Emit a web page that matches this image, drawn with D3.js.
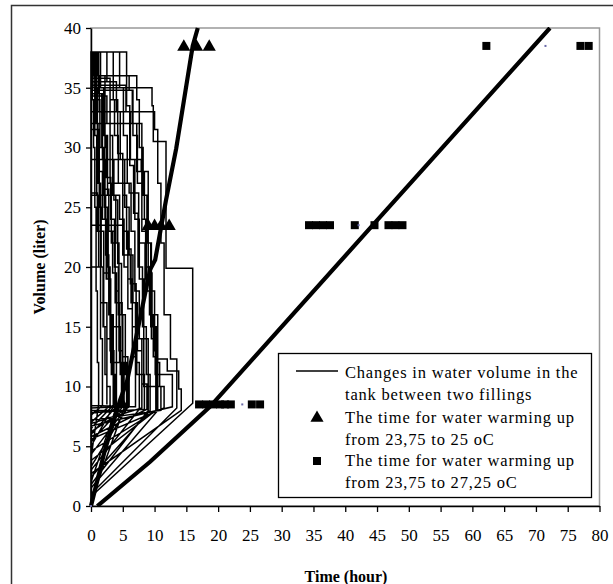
<!DOCTYPE html>
<html>
<head>
<meta charset="utf-8">
<script src="https://cdn.jsdelivr.net/npm/d3@7"></script>
<style>
  body { margin: 0; background: #fff; overflow: hidden; }
  svg { display: block; }
  text { font-family: "Liberation Serif", "Times New Roman", serif; }
</style>
</head>
<body>
<div id="chart"></div>
<script>
// TICKS
const xTicks = [0, 5, 10, 15, 20, 25, 30, 35, 40, 45, 50, 55, 60, 65, 70, 75, 80];
const yTicks = [0, 5, 10, 15, 20, 25, 30, 35, 40];

// TANK CYCLES: [start volume, filled volume, t1, v1, t2, v2, ...]
const cycles = [
  [0.0, 38, 0.3, 35, 0.6, 31, 0.9, 26, 1.2, 20, 1.5, 14, 1.8, 8.4],
  [7.6, 38, 1.5, 35, 2.0, 31, 2.6, 27, 3.2, 23, 3.8, 18, 4.4, 13, 5.0, 8.3],
  [5.4, 38, 3.5, 34, 4.2, 29.5, 5.0, 26, 5.6, 21.5, 6.3, 17, 7.0, 12, 7.6, 8.1],
  [3.0, 38, 5.6, 33.5, 6.1, 28.5, 6.7, 24.5, 7.4, 20, 8.1, 15, 8.7, 11, 9.3, 8],
  [2.4, 36, 7.2, 34, 7.6, 30, 8.2, 26, 8.8, 22, 9.4, 18, 10.0, 13, 10.5, 8],
  [1.5, 35, 9.6, 33.5, 9.8, 30.5, 11.8, 19.9, 16.0, 8.6],
  [0.8, 35.5, 4.0, 33, 4.6, 29, 5.3, 25, 6.0, 21, 6.6, 17, 7.3, 13, 8.0, 8.2],
  [6.9, 34.8, 6.5, 32, 7.2, 28, 8.0, 24, 8.6, 20, 9.2, 16, 9.8, 12.5, 10.4, 8],
  [4.6, 34.3, 2.5, 32, 3.0, 29, 3.6, 25.6, 4.2, 20.3, 4.8, 16, 5.4, 11, 6.0, 8.3],
  [6.2, 29, 3.0, 27, 6.0, 26.2, 7.5, 22, 8.5, 18, 9.5, 14, 10.2, 8],
  [3.8, 38, 0.8, 32, 1.1, 27, 1.5, 20, 2.0, 15, 2.5, 10, 3.0, 8.4],
  [7.0, 29, 2.0, 26.5, 2.8, 23, 3.4, 19.5, 4.0, 15, 4.6, 11, 5.2, 8.2],
  [0.4, 32, 8.0, 28, 9.0, 22, 9.5, 16, 10.5, 12.3, 12.0, 11.3, 13.8, 9.8, 14.2, 8],
  [2.7, 26.2, 1.0, 23, 2.0, 19.5, 3.0, 15, 4.0, 12, 4.8, 8.3],
  [8.2, 23.5, 5.0, 21, 6.2, 18.6, 7.1, 14, 8.0, 10.2, 8.8, 8.1],
  [5.8, 31.5, 1.2, 28, 1.8, 24, 2.4, 19, 3.0, 13, 3.6, 8.5],
  [6.5, 36, 2.2, 30, 2.6, 26, 3.2, 22, 3.8, 17, 4.5, 12, 5.2, 8],
  [8.0, 38, 0.2, 34, 0.4, 30, 0.6, 25, 0.8, 18, 1.0, 12, 1.2, 8.5],
  [4.0, 33, 10.0, 31.5, 10.5, 27, 11.0, 22, 11.5, 16, 12.5, 12.3, 13.5, 8.2],
  [1.0, 35.2, 5.5, 33, 6.2, 29, 6.9, 24, 7.6, 19, 8.3, 14, 9.0, 10, 11.0, 8],
  [7.2, 38, 1.0, 36, 1.3, 33, 1.8, 29, 2.2, 24, 2.7, 19, 3.1, 12, 3.5, 8.3],
  [5.0, 38, 2.5, 35.5, 3.0, 31, 3.4, 26, 3.9, 22, 4.4, 17, 4.9, 12, 5.6, 8.1],
  [3.3, 38, 0.5, 36, 0.9, 34, 1.4, 30, 1.9, 26, 2.3, 21, 2.8, 16, 3.3, 11, 3.8, 8.2],
  [6.0, 38, 1.2, 34.5, 1.7, 30, 2.1, 25, 2.6, 20, 3.0, 16, 3.5, 12, 4.0, 8.3],
  [2.0, 35.8, 3.0, 34, 3.7, 31, 4.3, 27, 5.0, 23, 5.8, 19, 6.5, 15, 7.2, 11, 8.4, 8.1],
  [7.8, 34.5, 1.8, 31, 2.4, 27.5, 3.1, 24, 3.7, 20, 4.3, 16, 5.0, 12.5, 5.8, 8.4],
  [4.3, 38, 4.5, 35, 5.1, 31, 5.7, 27, 6.3, 23, 6.9, 18, 7.6, 14, 8.3, 10, 9.0, 8],
  [1.8, 29, 7.9, 28, 8.4, 24, 9.0, 19.5, 9.6, 15, 10.3, 12, 10.8, 10, 11.5, 8.2],
  [5.6, 26, 4.5, 24, 5.2, 20, 5.8, 16.5, 6.5, 12.5, 7.0, 8.3],
  [8.4, 20, 1.5, 17, 2.5, 14, 3.2, 11, 4.0, 8.4],
  [0.2, 36, 6.0, 34.8, 6.6, 31, 7.3, 27, 8.0, 23, 8.7, 19, 9.4, 15, 10.1, 11, 12.8, 8.3],
  [6.7, 38, 0.6, 35, 1.0, 30, 1.3, 25, 1.6, 20, 1.9, 15, 2.2, 11, 2.5, 8.5]
];

// THICK TREND LINES
const trend25 = [[0, 0], [2.2, 4.7], [4.6, 8.9], [5.7, 10.5], [9.3, 19.8], [10.1, 20.6], [11.8, 25.6], [13.4, 29.9], [16.0, 38.5], [16.8, 40]];
const trend27 = [[1.0, 0], [9.3, 3.7], [18.7, 8.3], [45.0, 23.9], [72.2, 40]];

// MARKERS
const triangles = [[4.9, 8.6], [9.0, 23.5], [10.0, 23.5], [11.0, 23.5], [12.3, 23.5], [14.6, 38.5], [16.6, 38.5], [18.6, 38.5]];
const squares = [
  [17.0, 8.5], [18.1, 8.5], [19.2, 8.5], [20.3, 8.5], [21.1, 8.5], [22.0, 8.5], [25.3, 8.5], [26.6, 8.5],
  [34.3, 23.5], [35.4, 23.5], [36.5, 23.5], [37.6, 23.5], [41.5, 23.5], [44.6, 23.5], [46.8, 23.5], [47.9, 23.5], [49.0, 23.5],
  [62.2, 38.5], [77.0, 38.5], [78.3, 38.5]
];
const dots = [[0, 0], [23.8, 8.5], [42.1, 23.5], [71.5, 38.5]];

const legendLines = [
  ["Changes in water volume in the", "tank between two fillings"],
  ["The time for water warming up", "from 23,75 to 25 oC"],
  ["The time for water warming up", "from 23,75 to 27,25 oC"]
];

// SIZE
const w = 613, h = 584;
const pLeft = 91, pRight = 599.5, pTop = 28, pBottom = 506;

const svg = d3.select("#chart").append("svg").attr("width", w).attr("height", h);
svg.append("rect").attr("width", w).attr("height", h).attr("fill", "#fff");

// OUTER FRAME
svg.append("rect")
  .attr("x", 11.5).attr("y", 5.5).attr("width", 800).attr("height", 800)
  .attr("fill", "none").attr("stroke", "#333").attr("stroke-width", 1.5);

const x = d3.scaleLinear().domain([0, 80]).range([pLeft, pRight]);
const y = d3.scaleLinear().domain([0, 40]).range([pBottom, pTop]);

// PLOT AREA BORDER
svg.append("rect")
  .attr("x", pLeft).attr("y", pTop).attr("width", pRight - pLeft).attr("height", pBottom - pTop)
  .attr("fill", "none").attr("stroke", "#999").attr("stroke-width", 1.5);

svg.append("clipPath").attr("id", "clip")
  .append("rect").attr("x", pLeft - 2).attr("y", pTop - 1).attr("width", pRight - pLeft + 2).attr("height", pBottom - pTop + 2);

const plot = svg.append("g").attr("clip-path", "url(#clip)");

// BUILD THE STEP PATH
const stepPoints = [];
cycles.forEach(c => {
  stepPoints.push([0, c[0]]);
  stepPoints.push([0, c[1]]);
  let prev = c[1];
  for (let i = 2; i < c.length; i += 2) {
    stepPoints.push([c[i], prev]);
    stepPoints.push([c[i], c[i + 1]]);
    prev = c[i + 1];
  }
});

const line = d3.line().x(d => x(d[0])).y(d => y(d[1]));

plot.append("path")
  .datum(stepPoints)
  .attr("d", line)
  .attr("fill", "none")
  .attr("stroke", "#000")
  .attr("stroke-width", 1.5)
  .attr("stroke-linejoin", "miter");

[trend25, trend27].forEach(t => {
  plot.append("path")
    .datum(t)
    .attr("d", line)
    .attr("fill", "none")
    .attr("stroke", "#000")
    .attr("stroke-width", 4.2);
});

// AXES
const yAxis = d3.axisLeft(y).tickValues(yTicks).tickSize(5).tickSizeOuter(0);
const gy = svg.append("g").attr("transform", "translate(" + pLeft + ",0)").call(yAxis);
const xAxis = d3.axisBottom(x).tickValues(xTicks).tickSize(6).tickSizeOuter(0);
const gx = svg.append("g").attr("transform", "translate(0," + pBottom + ")").call(xAxis);

[gx, gy].forEach(g => {
  g.attr("font-family", "Liberation Serif").attr("font-size", 17);
  g.select(".domain").attr("stroke", "#000").attr("stroke-width", 1.5);
  g.selectAll(".tick line").attr("stroke", "#000").attr("stroke-width", 1.3);
  g.selectAll(".tick text").attr("fill", "#000");
});
gy.selectAll(".tick text").attr("x", -10);
gx.selectAll(".tick text").attr("y", 23);

// MARKERS
const triangle = d3.symbol().type(d3.symbolTriangle).size(75);
svg.selectAll(".tri")
  .data(triangles).enter().append("path")
  .attr("class", "tri")
  .attr("d", triangle)
  .attr("transform", d => "translate(" + x(d[0]) + "," + (y(d[1]) + 1) + ")")
  .attr("fill", "#000");

svg.selectAll(".sq")
  .data(squares).enter().append("rect")
  .attr("class", "sq")
  .attr("x", d => x(d[0]) - 4).attr("y", d => y(d[1]) - 4)
  .attr("width", 8).attr("height", 8)
  .attr("fill", "#000");

svg.selectAll(".dot")
  .data(dots).enter().append("rect")
  .attr("class", "dot")
  .attr("x", d => x(d[0]) - 1).attr("y", d => y(d[1]) - 1)
  .attr("width", 2).attr("height", 2)
  .attr("fill", "#6a6aa8");

// AXIS TITLES
svg.append("text")
  .attr("x", 346).attr("y", 582)
  .attr("text-anchor", "middle")
  .attr("font-size", 16).attr("font-weight", "bold")
  .text("Time (hour)");

svg.append("text")
  .attr("transform", "translate(45,267) rotate(-90)")
  .attr("text-anchor", "middle")
  .attr("font-size", 16).attr("font-weight", "bold")
  .text("Volume (liter)");

// LEGEND
const legend = svg.append("g");
legend.append("rect")
  .attr("x", 278.5).attr("y", 353.5).attr("width", 313).attr("height", 144)
  .attr("fill", "#fff").attr("stroke", "#000").attr("stroke-width", 1.3);

const rowY = [373, 395, 418, 440, 461, 483];
legendLines.forEach((pair, i) => {
  pair.forEach((txt, j) => {
    legend.append("text")
      .attr("x", 345).attr("y", rowY[i * 2 + j] + 5)
      .attr("font-size", 16.5)
      .attr("letter-spacing", 0.8)
      .attr("fill", "#000")
      .text(txt);
  });
});
legend.append("line")
  .attr("x1", 296).attr("x2", 338).attr("y1", 371).attr("y2", 371)
  .attr("stroke", "#000").attr("stroke-width", 1.3);
legend.append("path")
  .attr("d", triangle)
  .attr("transform", "translate(317,418)")
  .attr("fill", "#000");
legend.append("rect")
  .attr("x", 313).attr("y", 457).attr("width", 8).attr("height", 8)
  .attr("fill", "#000");
</script>
</body>
</html>
